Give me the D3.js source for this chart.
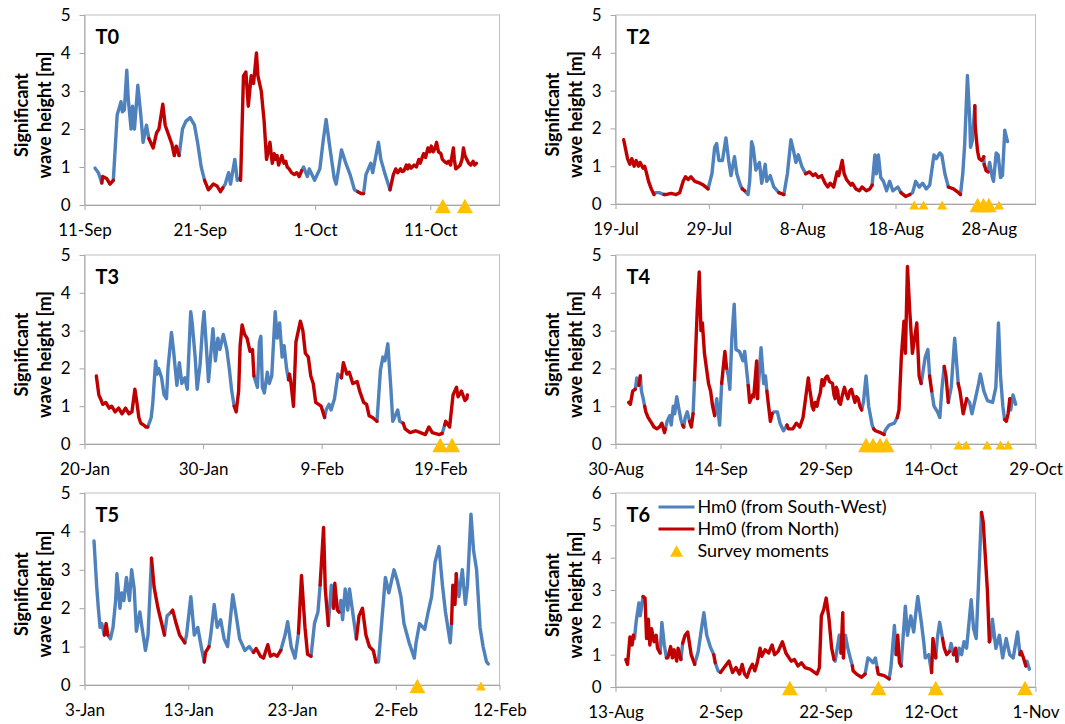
<!DOCTYPE html>
<html>
<head>
<meta charset="utf-8">
<script src="https://cdn.jsdelivr.net/npm/d3@7"></script>
<style>
  body { margin: 0; background: #fff; }
  svg text { font-family: Lato, "Open Sans", sans-serif; fill: #000; }
</style>
</head>
<body>
<div id="chart"></div>
<script>
// wave records: [day since panel start, Hm0 in m, direction (0 = South-West, 1 = North)]
const t0Wave = [
  [0.9,.97,0],[1.2,.85,0],[1.5,.58,0],
  [1.6,.75,1],[1.9,.7,1],[2.2,.55,1],[2.5,.65,1],
  [2.85,2.37,0],[3.15,2.72,0],[3.3,2.45,0],[3.45,2.5,0],[3.68,3.55,0],[3.8,2.8,0],[4.03,2.0,0],[4.17,2.6,0],[4.32,2.0,0],[4.62,3.15,0],[4.86,2.4,0],[5.07,1.65,0],[5.37,2.1,0],[5.57,1.75,0],
  [5.96,1.5,1],[6.26,1.9,1],[6.47,2.0,1],[6.8,2.65,1],[7.0,2.1,1],[7.3,1.85,1],[7.6,1.6,1],[7.8,1.3,1],[7.95,1.55,1],[8.2,1.3,1],
  [8.5,2.0,0],[8.8,2.2,0],[9.15,2.3,0],[9.54,2.1,0],[9.84,1.6,0],[10.13,1.0,0],[10.43,.65,0],
  [10.73,.4,1],[11.18,.55,1],[11.48,.5,1],[11.78,.35,1],[12.02,.45,1],
  [12.22,.55,0],[12.52,.85,0],[12.67,.55,0],[13.03,1.2,0],[13.26,.65,0],[13.5,.7,0],
  [13.56,.65,1],[13.8,3.4,1],[14.0,3.5,1],[14.22,2.6,1],[14.46,3.4,1],[14.66,3.2,1],[14.9,4.0,1],[15.05,3.4,1],[15.35,3.0,1],[15.59,2.2,1],[15.8,1.2,1],
  [15.95,1.45,1],[16.1,1.65,1],[16.2,1.3,1],[16.3,1.1,1],[16.45,1.35,1],[16.54,1.2,1],[16.7,1.3,1],[16.84,1.05,1],[17.0,1.2,1],[17.14,1.3,1],[17.3,1.1,1],[17.44,1.15,1],[17.6,1.0,1],[17.74,.95,1],[17.95,.85,1],[18.2,.8,1],[18.4,.85,1],[18.63,.75,1],[18.84,.9,1],
  [19.0,1.0,0],[19.32,.75,0],[19.52,.95,0],[19.97,.65,0],[20.42,.95,0],[20.72,1.7,0],[20.95,2.25,0],[21.3,1.5,0],[21.67,.7,0],[21.85,.55,0],[22.06,.95,0],[22.3,1.45,0],[22.65,1.1,0],[23.04,.8,0],[23.4,.4,0],[23.7,.35,0],
  [24.0,.3,1],[24.2,.3,1],
  [24.43,.8,0],[24.82,1.1,0],[25.0,.85,0],[25.5,1.65,0],[25.7,1.2,0],[26.08,.8,0],[26.5,.4,0],
  [26.8,.8,1],[27.0,.95,1],[27.15,.85,1],[27.4,.95,1],[27.55,.88,1],[27.7,.9,1],[27.9,1.05,1],[28.05,.95,1],[28.16,1.05,1],[28.35,.97,1],[28.6,1.05,1],[28.8,1.0,1],[29.0,1.2,1],[29.13,1.1,1],[29.3,1.25,1],[29.43,1.35,1],[29.6,1.25,1],[29.8,1.5,1],[29.96,1.4,1],[30.1,1.55,1],[30.27,1.4,1],[30.4,1.5,1],[30.55,1.65,1],[30.7,1.4,1],[30.9,1.35,1],[31.05,1.2,1],[31.2,1.15,1],[31.4,1.1,1],[31.6,1.15,1],[31.74,1.05,1],[31.85,1.2,1],[31.98,1.5,1],[32.1,1.2,1],[32.2,.95,1],[32.4,1.0,1],[32.58,1.05,1],[32.75,1.2,1],[32.88,1.5,1],[33.0,1.3,1],[33.18,1.2,1],[33.35,1.1,1],[33.5,1.05,1],[33.7,1.15,1],[33.84,1.05,1],[34.0,1.1,1]
];
const t2Wave = [
  [0.88,1.7,1],[1.1,1.45,1],[1.28,1.2,1],[1.54,1.05,1],[1.76,1.2,1],[1.98,1.0,1],[2.2,1.15,1],[2.46,1.0,1],[2.64,1.1,1],[2.94,.95,1],[3.12,1.0,1],[3.3,.85,1],[3.56,.6,1],[3.82,.4,1],[4.11,.25,1],
  [4.29,.3,0],[4.66,.3,0],[5.21,.25,0],
  [5.39,.25,1],[5.94,.28,1],[6.5,.25,1],[6.86,.3,1],[7.23,.6,1],[7.49,.72,1],[7.78,.65,1],[8.07,.72,1],[8.51,.6,1],[9.06,.55,1],[9.43,.5,1],[9.91,.4,1],
  [10.35,.8,0],[10.64,1.5,0],[10.83,1.6,0],[11.08,1.15,0],[11.45,1.15,0],[11.82,1.75,0],[12.11,1.15,0],[12.37,.75,0],[12.73,1.25,0],[12.99,.8,0],[13.36,.5,0],[13.58,.4,0],
  [13.83,.35,1],
  [14.2,.25,0],[14.39,.6,0],[14.57,1.65,0],[14.75,1.5,0],[15.05,.9,0],[15.41,1.1,0],[15.67,.55,0],[16.04,1.05,0],[16.22,.6,0],[16.59,.75,0],[16.95,.45,0],[17.5,.3,0],
  [18.06,.25,1],
  [18.42,.8,0],[18.79,1.7,0],[19.08,1.4,0],[19.34,1.1,0],[19.6,1.3,0],[19.96,1.0,0],[20.37,.8,0],
  [20.81,.85,1],[21.17,.75,1],[21.43,.8,1],[21.72,.7,1],[22.09,.75,1],[22.46,.55,1],[22.75,.45,1],[23.01,.55,1],[23.38,.45,1],[23.74,.85,1],[23.93,.75,1],[24.29,1.15,1],[24.48,.8,1],[24.73,.65,1],[25.21,.5,1],[25.39,.55,1],[25.76,.4,1],[26.13,.35,1],[26.42,.45,1],[26.86,.35,1],[27.23,.4,1],[27.52,.5,1],
  [27.78,1.3,0],[27.96,.8,0],[28.15,1.3,0],[28.4,.7,0],[28.7,.6,0],[29.06,.35,0],[29.36,.6,0],[29.72,.35,0],[30.24,.45,0],[30.6,.3,0],
  [31.08,.2,1],[31.56,.25,1],
  [31.82,.3,0],[32.18,.6,0],[32.55,.45,0],[32.92,.55,0],[33.28,.4,0],[33.65,.5,0],[34.13,1.3,0],[34.39,1.2,0],[34.75,1.35,0],[34.94,1.3,0],[35.3,.8,0],[35.67,.45,0],
  [36.22,.4,1],[36.77,.3,1],[36.95,.25,1],
  [37.21,.8,0],[37.43,1.6,0],[37.69,3.4,0],[37.94,2.2,0],[38.06,1.5,0],[38.24,1.7,0],[38.5,2.6,0],
  [38.53,2.05,1],[38.79,1.4,1],[38.97,1.2,1],[39.27,1.15,1],[39.45,1.25,1],
  [39.52,1.05,0],
  [39.7,.88,1],[39.9,.85,1],
  [40.07,1.1,0],[40.37,.7,0],[40.51,.6,0],[40.81,1.35,0],[41.0,1.3,0],[41.25,.7,0],[41.47,.75,0],[41.72,1.95,0],[41.98,1.65,0]
];
const t3Wave = [
  [0.98,1.8,1],[1.22,1.3,1],[1.42,1.15,1],[1.56,1.05,1],[1.79,1.1,1],[2.08,.95,1],[2.29,1.0,1],[2.58,.85,1],[2.87,.95,1],[3.15,.8,1],[3.44,.95,1],[3.73,.8,1],[4.02,.85,1],[4.23,1.45,1],[4.4,1.1,1],[4.6,.7,1],[4.75,.55,1],[4.98,.5,1],[5.18,.45,1],[5.33,.45,1],
  [5.47,.55,0],[5.62,.7,0],[5.76,1.05,0],[5.99,2.2,0],[6.14,1.85,0],[6.25,2.0,0],[6.48,1.75,0],[6.71,1.3,0],[6.92,1.2,0],[7.06,2.0,0],[7.35,2.95,0],[7.5,2.5,0],[7.79,1.55,0],[7.99,2.15,0],[8.22,1.6,0],[8.45,1.75,0],[8.65,1.45,0],[8.94,3.5,0],[9.09,3.2,0],[9.32,2.3,0],[9.52,1.45,0],[9.73,2.1,0],[9.96,3.1,0],[10.1,3.5,0],[10.25,2.7,0],[10.45,1.65,0],[10.82,3.05,0],[11.06,2.2,0],[11.26,2.8,0],[11.4,2.5,0],[11.69,2.9,0],[11.98,2.5,0],[12.21,2.0,0],[12.42,1.4,0],[12.62,1.0,0],
  [12.79,.85,1],[13.0,1.4,1],[13.14,2.6,1],[13.29,3.15,1],[13.49,2.9,1],[13.72,2.8,1],[13.95,2.45,1],[14.15,2.5,1],[14.3,1.8,1],
  [14.59,1.5,0],[14.73,2.7,0],[14.88,2.85,0],[15.02,1.5,0],[15.17,1.35,0],[15.4,1.9,0],[15.6,1.6,0],[15.8,1.8,0],[16.09,3.5,0],[16.27,2.8,0],[16.47,3.2,0],[16.67,2.3,0],[16.84,2.6,0],[17.05,2.0,0],[17.19,1.7,0],
  [17.28,1.85,1],[17.42,1.6,1],[17.63,1.0,1],[17.83,2.7,1],[18.21,3.25,1],[18.41,3.0,1],[18.64,2.4,1],[18.87,2.3,1],[19.07,1.8,1],[19.28,1.6,1],[19.51,1.1,1],[19.94,1.0,1],[20.23,.7,1],
  [20.38,.9,0],[20.61,1.05,0],[20.81,.9,0],[21.1,1.2,0],[21.39,1.85,0],[21.68,1.75,0],
  [21.82,2.15,1],[22.11,1.85,1],[22.34,1.9,1],[22.63,1.6,1],[22.98,1.65,1],[23.21,1.4,1],[23.56,1.1,1],[23.79,1.05,1],[23.99,.75,1],[24.28,.7,1],[24.66,.6,1],
  [24.95,1.95,0],[25.15,2.3,0],[25.35,2.2,0],[25.59,2.65,0],[25.82,1.5,0],[26.02,.6,0],[26.4,.9,0],[26.6,.6,0],[26.89,.55,0],
  [27.03,.4,1],[27.47,.3,1],[27.9,.35,1],[28.34,.3,1],[28.77,.25,1],[29.06,.45,1],[29.35,.3,1],[29.93,.25,1],[30.16,.28,1],
  [30.36,.5,0],
  [30.45,.6,1],[30.79,.45,1],[31.08,1.3,1],[31.37,1.5,1],[31.52,1.25,1],[31.8,1.4,1],[32.1,1.15,1],[32.24,1.2,1],[32.3,1.3,1]
];
const t4Wave = [
  [1.87,1.1,1],[2.12,1.05,1],[2.46,1.4,1],[2.85,1.45,1],
  [3.05,1.75,0],[3.34,1.55,0],
  [3.54,1.8,1],
  [3.69,1.4,0],[3.94,1.2,0],[4.18,1.0,0],
  [4.33,.85,1],[4.67,.7,1],[5.16,.55,1],[5.51,.45,1],[5.9,.4,1],[6.3,.45,1],[6.64,.55,1],[6.98,.3,1],[7.13,.4,1],
  [7.38,.6,0],[7.77,.75,0],[7.97,.5,0],[8.26,1.0,0],[8.46,.8,0],[8.76,1.25,0],[9.1,.9,0],[9.35,.65,0],[9.59,.5,0],
  [9.74,.45,1],
  [9.94,.7,0],[10.23,.85,0],[10.58,.6,0],
  [10.82,.45,1],[11.07,.8,1],
  [11.31,1.7,0],
  [11.66,3.5,1],[11.95,4.55,1],[12.2,3.0,1],[12.4,3.2,1],[12.69,2.4,1],[12.99,2.0,1],[13.28,1.6,1],[13.58,1.4,1],[13.87,1.0,1],[14.17,.75,1],
  [14.46,1.2,0],[14.86,.5,0],[15.15,1.6,0],
  [15.64,2.45,1],[15.89,2.0,1],
  [16.13,1.8,0],[16.33,1.45,0],[16.63,2.8,0],[16.97,3.7,0],[17.22,2.5,0],[17.71,2.45,0],[18.2,2.2,0],[18.45,2.45,0],[18.69,2.0,0],[18.94,1.55,0],
  [19.18,1.1,1],[19.58,1.3,1],[19.77,1.25,1],[20.17,2.2,1],[20.31,1.2,1],
  [20.8,2.55,0],[21.15,1.6,0],[21.4,1.8,0],[21.64,1.4,0],
  [21.89,1.0,1],[22.13,.6,1],[22.38,.8,1],
  [22.63,.85,0],[23.12,.85,0],[23.51,.55,0],[24.0,.35,0],[24.5,.5,0],
  [24.69,.4,1],[25.33,.4,1],[25.82,.55,1],[26.32,.45,1],[26.81,.7,1],[27.55,1.75,1],[27.7,1.5,1],[27.94,1.2,1],[28.1,1.0,1],[28.29,.9,1],[28.5,1.1,1],[28.78,1.0,1],[29.0,1.2,1],[29.27,1.35,1],[29.5,1.7,1],[29.76,1.55,1],[30.0,1.75,1],[30.25,1.8,1],[30.6,1.65,1],[30.99,1.6,1],[31.2,1.3,1],[31.38,1.2,1],[31.55,1.5,1],[31.73,1.4,1],[31.9,1.1,1],[32.12,1.05,1],[32.4,1.3,1],[32.71,1.5,1],[32.9,1.35,1],[33.2,1.2,1],[33.45,1.4,1],[33.69,1.45,1],[33.9,1.3,1],[34.19,1.1,1],[34.4,1.25,1],[34.68,1.2,1],[34.9,1.0,1],[35.17,.9,1],
  [35.42,1.1,0],[35.81,1.8,0],[36.15,1.0,0],[36.65,.5,0],[36.89,.4,0],
  [37.14,.35,1],[37.87,.3,1],[38.37,.25,1],
  [38.51,.35,0],[39.1,.5,0],[39.84,.55,0],[40.24,.7,0],
  [40.48,.9,1],[40.83,2.3,1],[41.22,3.25,1],[41.42,2.4,1],[41.71,4.7,1],[42.06,3.5,1],[42.4,2.4,1],[43.04,3.2,1],[43.38,1.8,1],[43.68,1.6,1],
  [44.27,2.3,0],[44.61,2.5,0],[44.86,1.8,0],
  [45.15,1.4,1],
  [45.5,1.0,0],[45.99,.85,0],[46.33,.7,0],[46.63,1.45,0],[46.97,2.05,0],
  [47.22,1.8,1],[47.56,1.1,1],
  [47.96,1.5,0],[48.45,2.8,0],[48.94,1.6,0],
  [49.19,1.4,1],[49.68,.8,1],[50.17,1.2,1],
  [50.57,1.1,0],[50.91,.8,0],[51.4,1.2,0],[51.89,1.6,0],[52.14,1.85,0],[52.63,1.4,0],[53.12,1.15,0],[53.86,1.1,0],[54.35,1.5,0],[54.7,3.2,0],[54.99,1.8,0],[55.34,1.0,0],[55.58,.65,0],
  [55.83,.6,1],[56.07,.8,1],[56.32,1.2,1],
  [56.47,.9,0],[56.81,1.3,0],[57.16,1.05,0]
];
const t5Wave = [
  [0.92,3.75,0],[1.16,2.6,0],[1.35,2.0,0],[1.49,1.5,0],[1.68,1.6,0],[1.92,1.3,0],
  [2.08,1.6,1],[2.25,1.3,1],
  [2.48,1.2,0],[2.74,1.5,0],[3.01,2.2,0],[3.14,2.9,0],[3.4,2.0,0],[3.57,2.4,0],[3.8,2.2,0],[4.06,2.8,0],[4.33,2.2,0],[4.56,3.0,0],[4.79,2.5,0],[4.99,1.4,0],[5.32,1.9,0],[5.55,1.5,0],[5.88,.9,0],[6.11,1.3,0],[6.44,3.3,0],
  [6.7,2.55,1],[7.1,2.0,1],[7.69,1.3,1],
  [7.96,1.8,0],[8.36,1.9,0],
  [8.52,1.95,1],[8.85,1.6,1],[9.18,1.3,1],[9.68,1.1,1],
  [9.84,1.3,0],[10.27,2.3,0],[10.6,1.3,0],[10.93,1.5,0],[11.26,1.0,0],[11.56,.6,0],
  [11.66,.85,1],[11.99,1.0,1],
  [12.15,1.3,0],[12.48,2.1,0],[12.81,1.5,0],[13.14,1.7,0],[13.47,1.2,0],[13.8,1.0,0],[14.3,2.35,0],[14.63,1.8,0],[14.96,1.2,0],[15.45,.9,0],[15.88,1.0,0],[16.28,.85,0],
  [16.55,.95,1],[16.94,.75,1],[17.27,.7,1],[17.67,1.05,1],[17.93,.75,1],[18.26,.8,1],[18.59,.75,1],[18.92,.9,1],
  [19.32,1.3,0],[19.58,1.65,0],[19.91,1.0,0],[20.31,.7,0],[20.64,1.35,0],
  [20.9,2.85,1],[21.24,1.5,1],[21.5,.8,1],[21.83,.75,1],
  [22.16,1.6,0],[22.49,1.9,0],[22.72,2.6,0],
  [23.05,4.1,1],[23.22,2.5,1],[23.48,1.55,1],
  [23.61,2.0,0],[23.81,2.6,0],[23.98,2.0,0],
  [24.14,2.65,1],[24.37,1.95,1],[24.54,1.9,1],
  [24.7,2.2,0],[24.87,1.7,0],[25.13,2.5,0],[25.36,1.95,0],[25.53,2.5,0],[26.02,1.6,0],[26.19,1.2,0],
  [26.45,1.8,1],[26.78,2.0,1],[27.11,1.3,1],[27.44,1.0,1],[27.84,.9,1],[28.1,.6,1],
  [28.33,.6,0],[28.67,1.7,0],[29.0,2.8,0],[29.33,2.4,0],[29.82,3.0,0],[30.15,2.7,0],[30.48,2.3,0],[30.81,1.6,0],[31.31,1.1,0],[31.8,.7,0],[31.97,1.1,0],[32.3,1.6,0],[32.79,1.45,0],[33.12,1.9,0],[33.45,2.3,0],[33.78,3.2,0],[34.18,3.6,0],[34.51,2.6,0],[34.78,1.9,0],[35.27,1.1,0],[35.37,1.6,0],
  [35.5,2.6,1],[35.7,2.1,1],[35.83,2.9,1],
  [36.1,2.3,0],[36.43,3.0,0],[36.69,2.1,0],[36.92,2.6,0],[37.25,4.45,0],[37.52,3.5,0],[37.81,3.0,0],[38.14,1.5,0],[38.41,1.0,0],[38.74,.6,0],[38.9,.55,0]
];
const t6Wave = [
  [1.97,.85,1],[2.3,.7,1],[2.75,1.55,1],[3.15,1.3,1],[3.41,1.6,1],
  [3.61,1.5,0],[3.93,2.0,0],[4.46,2.6,0],[4.72,2.2,0],[5.25,2.8,0],
  [5.64,2.75,1],[5.9,1.5,1],[6.23,2.1,1],[6.56,1.3,1],[6.89,1.8,1],[7.34,1.4,1],[7.74,1.6,1],[8.0,1.2,1],[8.52,1.05,1],
  [8.85,2.0,0],[9.31,1.3,0],[9.7,.9,0],
  [9.97,.9,1],[10.49,1.25,1],[10.82,.9,1],[11.15,1.15,1],[11.67,.8,1],[11.93,1.2,1],[12.46,.85,1],
  [12.79,1.35,0],
  [13.25,1.6,1],[13.77,1.7,1],[14.43,1.0,1],[15.08,.7,1],
  [15.74,1.1,0],[16.39,1.8,0],[16.85,2.3,0],[17.38,1.6,0],[18.03,1.25,0],[18.69,1.0,0],
  [19.02,.75,1],
  [19.54,.5,0],[20.0,.45,0],
  [20.46,.55,1],[21.64,.8,1],[22.3,.45,1],[22.95,.6,1],[23.61,.4,1],[24.13,.7,1],[24.59,.4,1],[25.05,.3,1],[25.57,.55,1],[26.1,.7,1],[26.56,.5,1],[27.02,.75,1],[27.54,1.2,1],[27.87,.95,1],[28.52,1.15,1],[29.18,1.05,1],[29.84,1.3,1],[30.3,1.0,1],[30.95,1.1,1],[31.8,1.4,1],[32.46,1.05,1],[33.44,.8,1],[34.1,.85,1],[34.75,.65,1],[35.41,.75,1],[36.07,.6,1],[37.05,.55,1],[38.36,.4,1],[38.82,.6,1],[39.21,2.2,1],[39.67,2.4,1],[40.13,2.75,1],[40.66,2.1,1],[41.18,1.2,1],[41.64,.85,1],
  [41.84,.8,0],[42.62,1.6,0],[42.95,1.05,0],
  [43.28,2.3,1],[43.41,.9,1],
  [43.8,1.6,0],[44.26,1.2,0],[44.72,.9,0],[45.11,.65,0],
  [45.25,.5,1],[45.9,.4,1],[46.89,.3,1],[47.54,.4,1],
  [48.07,.9,0],[48.52,.85,0],[49.05,.75,0],[49.51,.9,0],[49.84,.6,0],
  [50.03,.4,1],[51.15,.35,1],[52.13,.25,1],
  [52.46,.6,0],[53.11,1.9,0],[53.44,1.0,0],
  [53.77,1.6,1],[54.1,.75,1],[54.43,.65,1],
  [54.56,1.0,0],[55.21,2.5,0],[55.61,1.6,0],[56.26,2.2,0],[56.8,1.7,0],[57.2,2.3,0],[57.57,2.8,0],[58.23,2.0,0],[58.69,1.4,0],[59.02,.9,0],[59.67,1.0,0],[60.2,.45,0],
  [60.46,1.5,1],[60.98,.9,1],
  [61.31,1.5,0],[61.77,2.0,0],[62.3,1.5,0],
  [62.62,1.2,1],[63.08,1.0,1],[63.61,1.1,1],
  [63.93,1.35,0],[64.39,1.0,0],
  [64.79,1.2,1],[65.05,.8,1],
  [65.44,1.2,0],[65.9,1.0,0],[66.36,1.4,0],[66.89,1.2,0],[67.74,2.7,0],[68.2,1.8,0],[68.72,1.5,0],[69.7,5.4,0],
  [70.03,5.1,1],[70.43,4.1,1],[70.82,3.0,1],[71.21,1.4,1],
  [71.48,1.5,0],[71.8,2.1,0],[72.46,1.2,0],[73.11,1.6,0],[73.77,.9,0],[74.43,1.5,0],[75.08,1.0,0],[75.74,.9,0],[76.59,1.7,0],[77.05,1.0,0],
  [77.25,1.1,1],[77.7,.9,1],[78.16,.65,1],
  [78.36,.8,0],[78.82,.55,0]
];

// survey moments (day since panel start) and marker kind (1 = large, 0 = small)
const t0Survey = [31.1, 33.0];            const t0Kind = [1, 1];
const t2Survey = [32.0, 33.0, 35.0, 38.8, 39.4, 40.0, 41.1];
const t2Kind = [0, 0, 0, 1, 1, 1, 0];
const t3Survey = [30.0, 31.0];            const t3Kind = [1, 1];
const t4Survey = [35.8, 36.8, 37.8, 38.7, 49.0, 50.1, 53.1, 55.0, 56.1];
const t4Kind = [1, 1, 1, 1, 0, 0, 0, 0, 0];
const t5Survey = [32.1, 38.2];            const t5Kind = [1, 0];
const t6Survey = [33.2, 50.1, 61.0, 78.0]; const t6Kind = [1, 1, 1, 1];

const legendLabels = ["Hm0 (from South-West)", "Hm0 (from North)", "Survey moments"];

const panels = [
  {name: "T0", start: "2015-09-11", end: "2015-10-17", step: 10, yMax: 5, wave: t0Wave, survey: t0Survey, kind: t0Kind, box: [84.5, 15, 499.5, 205]},
  {name: "T2", start: "2015-07-19", end: "2015-09-02", step: 10, yMax: 5, wave: t2Wave, survey: t2Survey, kind: t2Kind, box: [615.5, 15, 1035.5, 204]},
  {name: "T3", start: "2015-01-20", end: "2015-02-24", step: 10, yMax: 5, wave: t3Wave, survey: t3Survey, kind: t3Kind, box: [84.5, 255, 499.5, 444]},
  {name: "T4", start: "2015-08-30", end: "2015-10-29", step: 15, yMax: 5, wave: t4Wave, survey: t4Survey, kind: t4Kind, box: [615.5, 255, 1035.5, 444]},
  {name: "T5", start: "2015-01-03", end: "2015-02-12", step: 10, yMax: 5, wave: t5Wave, survey: t5Survey, kind: t5Kind, box: [84.5, 493, 499.5, 685]},
  {name: "T6", start: "2015-08-13", end: "2015-11-01", step: 20, yMax: 6, wave: t6Wave, survey: t6Survey, kind: t6Kind, box: [615.5, 493, 1035.5, 687], legend: true}
];

const colSW = "#4f81bd", colN = "#c00000", colSurvey = "#ffc000", axisCol = "#a6a6a6";
const parseDay = d3.timeParse("%Y-%m-%d");
const fmt = d3.timeFormat("%-d-%b");

const svg = d3.select("#chart").append("svg")
  .attr("width", 1065)
  .attr("height", 724);

// triangle centred on its bounding box
function tri(w) {
  const h = w * 0.9;
  return `M0,${-h / 2}L${w / 2},${h / 2}L${-w / 2},${h / 2}Z`;
}

panels.forEach(function(p) {
  const [x0, y0, x1, y1] = p.box;
  const w = x1 - x0, h = y1 - y0;
  const start = parseDay(p.start), end = parseDay(p.end);
  const toDate = d => d3.timeHour.offset(start, Math.round(d * 24));

  const x = d3.scaleTime().domain([start, end]).range([0, w]);
  const y = d3.scaleLinear().domain([0, p.yMax]).range([h, 0]);

  const g = svg.append("g").attr("transform", `translate(${x0},${y0})`);

  // plot area border
  g.append("rect")
    .attr("width", w).attr("height", h)
    .attr("fill", "none")
    .attr("stroke", "#bfbfbf");

  const tickVals = d3.range(0, d3.timeDay.count(start, end) + 1, p.step)
    .map(d => d3.timeDay.offset(start, d));

  const yAxis = g.append("g")
    .call(d3.axisLeft(y).ticks(p.yMax).tickSize(5).tickSizeOuter(0).tickPadding(9));
  const xAxis = g.append("g")
    .attr("transform", `translate(0,${h})`)
    .call(d3.axisBottom(x).tickValues(tickVals).tickFormat(fmt).tickSize(5).tickSizeOuter(0).tickPadding(14));
  [yAxis, xAxis].forEach(a => {
    a.select(".domain").attr("stroke", axisCol);
    a.selectAll(".tick line").attr("stroke", axisCol);
    a.selectAll("text").style("font-size", "17px").attr("fill", "#000");
  });

  // y axis title
  const yt = svg.append("text")
    .attr("transform", `translate(${x0 - 57},${y0 + h / 2 + 5}) rotate(-90)`)
    .attr("text-anchor", "middle")
    .style("font-size", "18px")
    .style("font-weight", "bold");
  yt.append("tspan").attr("x", 0).attr("y", 0).text("Significant");
  yt.append("tspan").attr("x", 0).attr("y", 23).text("wave height [m]");

  // split into colour runs; each run starts from the previous point so the line stays continuous
  const runs = [];
  p.wave.forEach((r, i) => {
    if (i === 0 || r[2] !== p.wave[i - 1][2]) {
      runs.push({dir: r[2], pts: i === 0 ? [] : [p.wave[i - 1]]});
    }
    runs[runs.length - 1].pts.push(r);
  });

  const line = d3.line()
    .x(d => x(toDate(d[0])))
    .y(d => y(d[1]));

  [0, 1].forEach(dir => {
    g.selectAll(null)
      .data(runs.filter(r => r.dir === dir))
      .enter()
      .append("path")
      .attr("d", r => line(r.pts))
      .attr("fill", "none")
      .attr("stroke", dir === 0 ? colSW : colN)
      .attr("stroke-width", 3.4)
      .attr("stroke-linejoin", "round")
      .attr("stroke-linecap", "round");
  });

  g.selectAll(null)
    .data(p.survey)
    .enter()
    .append("path")
    .attr("transform", d => `translate(${x(toDate(d))},${y(0) + 1})`)
    .attr("d", (d, i) => tri(p.kind[i] ? 16 : 10))
    .attr("fill", colSurvey);

  g.append("text")
    .attr("x", 11).attr("y", 29)
    .style("font-size", "20px")
    .style("font-weight", "bold")
    .text(p.name);

  if (p.legend) {
    const lg = g.append("g").attr("transform", "translate(43,14)");
    legendLabels.forEach((lab, i) => {
      const row = lg.append("g").attr("transform", `translate(0,${i * 22})`);
      if (i < 2) {
        row.append("line")
          .attr("x1", 0).attr("x2", 36)
          .attr("stroke", i === 0 ? colSW : colN)
          .attr("stroke-width", 3);
      } else {
        row.append("path")
          .attr("transform", "translate(18,0)")
          .attr("d", tri(13))
          .attr("fill", colSurvey);
      }
      row.append("text")
        .attr("x", 39).attr("dy", "0.35em")
        .style("font-size", "18px")
        .text(lab);
    });
  }
});
</script>
</body>
</html>
